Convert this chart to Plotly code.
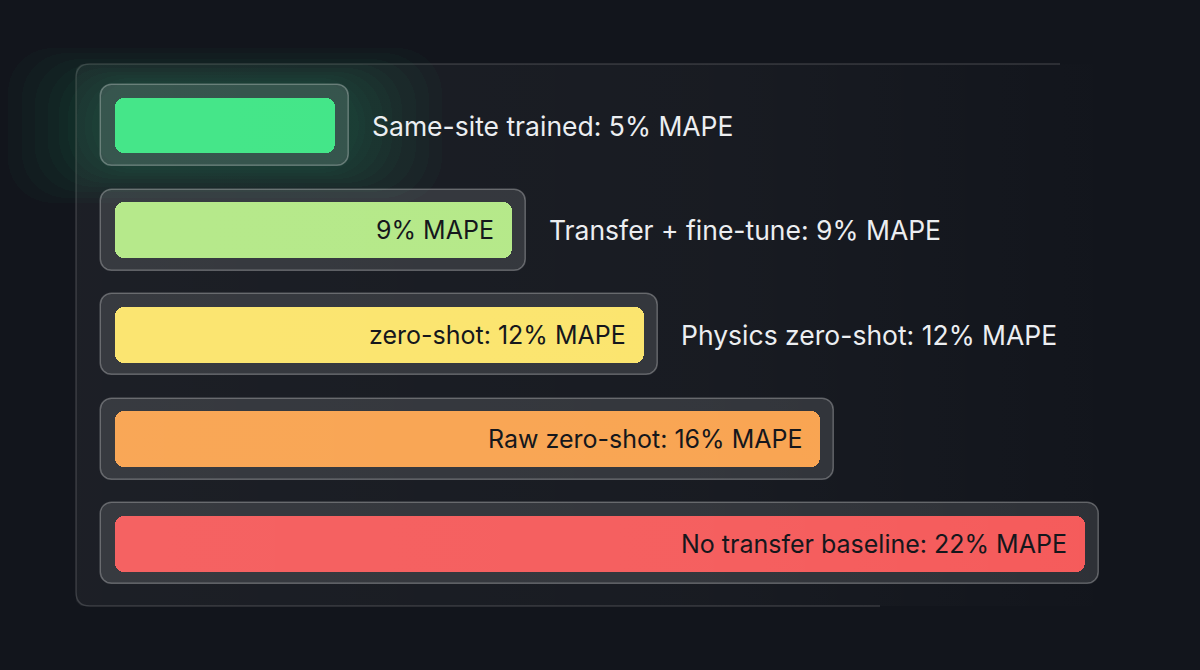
import plotly.graph_objects as go

# MAPE per approach (top to bottom)
values = [5, 9, 12, 16, 22]
inside_labels = ["", "9% MAPE", "zero-shot: 12% MAPE", "Raw zero-shot: 16% MAPE",
                 "No transfer baseline: 22% MAPE"]
outside_labels = ["Same-site trained: 5% MAPE", "Transfer + fine-tune: 9% MAPE",
                  "Physics zero-shot: 12% MAPE", "", ""]
colors = ["#3de584", "#b3e886", "#fbe46b", "#f9a34f", "#f55b5b"]

W, H = 1200, 670
x0_px, px_per_unit = 115, 44.09
y0_px, px_per_row = 125.5, 104.6
pad = 14 / px_per_unit          # container padding around each bar

rows = list(range(len(values)))
BG = "#12151c"
FONT = "Inter, Roboto, sans-serif"

fig = go.Figure()

# panel behind the chart (own pixel axes, fades out to the right)
L, T, R, B, c = 76, 64, 1125, 606, 5
px_ = [L, L, L + c, R, R, L + c, L, L]
py_ = [B - c, T + c, T, T, B, B, B - c, B - c]
fig.add_trace(go.Scatter(
    x=px_, y=py_, xaxis="x2", yaxis="y2", mode="lines", fill="toself",
    line=dict(width=0),
    fillgradient=dict(type="horizontal",
                      colorscale=[[0, "rgba(255,255,255,0.045)"], [0.6, "rgba(255,255,255,0.028)"],
                                  [1, "rgba(255,255,255,0)"]]),
    hoverinfo="skip", showlegend=False))

# soft green glow behind the first bar
for g in [7, 6, 5, 4, 3.2, 2.5, 1.8, 1.2, 0.7]:
    fig.add_trace(go.Bar(
        y=[rows[0]], x=[values[0] + 2 * (pad + g * 0.3)], base=-(pad + g * 0.3),
        orientation="h", width=0.78 + g * 0.1,
        marker=dict(color="rgba(61,229,132,0.022)", line=dict(width=0), cornerradius=45),
        hoverinfo="skip", showlegend=False))

# glass containers
fig.add_trace(go.Bar(
    y=rows, x=[v + 2 * pad for v in values], base=[-pad] * len(values),
    orientation="h", width=0.775,
    marker=dict(color="rgba(255,255,255,0.12)",
                line=dict(color="rgba(255,255,255,0.28)", width=1.5), cornerradius=12),
    hoverinfo="skip", showlegend=False))

# value bars
fig.add_trace(go.Bar(
    y=rows, x=values, base=[0] * len(values), orientation="h", width=0.535,
    marker=dict(color=colors, line=dict(width=0), cornerradius=9),
    hovertemplate="%{x}% MAPE<extra></extra>", showlegend=False))

for r, v, t in zip(rows, values, inside_labels):
    if t:
        fig.add_annotation(x=v, y=r, text=t, xanchor="right", xshift=-16, showarrow=False,
                           font=dict(family=FONT, size=25, color="#15171c"))
for r, v, t in zip(rows, values, outside_labels):
    if t:
        fig.add_annotation(x=v, y=r, text=t, xanchor="left", xshift=35, showarrow=False,
                           font=dict(family=FONT, size=26.5, color="#eceef1"))

# panel border, open on the right
def px_x(p):
    return p / W

def px_y(p):
    return 1 - p / H

rad = 14
panel_edge = (f"M {px_x(1060)},{px_y(T)} L {px_x(L + rad)},{px_y(T)} "
              f"Q {px_x(L)},{px_y(T)} {px_x(L)},{px_y(T + rad)} L {px_x(L)},{px_y(B - rad)} "
              f"Q {px_x(L)},{px_y(B)} {px_x(L + rad)},{px_y(B)} L {px_x(880)},{px_y(B)}")
fig.add_shape(type="path", path=panel_edge, xref="paper", yref="paper", layer="below",
              line=dict(color="rgba(255,255,255,0.15)", width=1.5))

fig.update_layout(
    width=W, height=H,
    margin=dict(l=0, r=0, t=0, b=0),
    paper_bgcolor=BG, plot_bgcolor="rgba(0,0,0,0)",
    barmode="overlay", bargap=0,
    xaxis=dict(range=[-x0_px / px_per_unit, (W - x0_px) / px_per_unit],
               visible=False, fixedrange=True),
    yaxis=dict(range=[(H - y0_px) / px_per_row, -y0_px / px_per_row],
               visible=False, fixedrange=True),
    xaxis2=dict(range=[0, W], overlaying="x", visible=False, fixedrange=True),
    yaxis2=dict(range=[H, 0], overlaying="y", visible=False, fixedrange=True),
    font=dict(family=FONT),
)

fig.write_html("out.html", config={"displayModeBar": False},
               post_script="document.body.style.margin='0';"
                           "document.body.style.background='#12151c';")
